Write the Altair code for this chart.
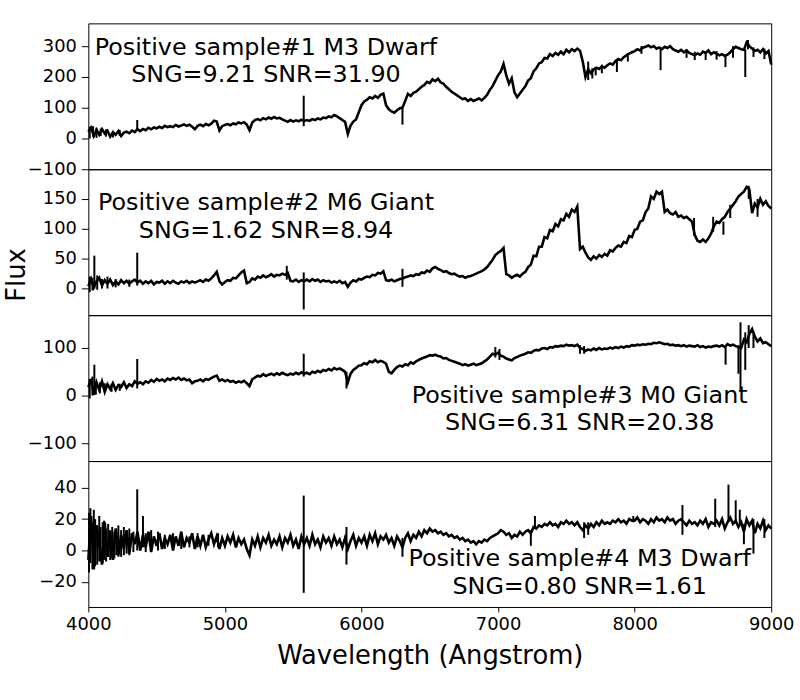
import altair as alt
import numpy as np
import pandas as pd

# Common wavelength grid (Angstrom) for the four spectra, 20 A steps
WAVE = np.arange(4000, 9001, 20)

# Sample 1: M3 dwarf (one row = 200 A)
FLUX_1 = [
    22, 35, 8, 28, 12, 30, 16, 25, 6, 20,
    12, 24, 8, 19, 22, 17, 26, 21, 30, 24,
    31, 27, 35, 30, 36, 33, 38, 34, 41, 37,
    40, 37, 44, 39, 42, 46, 41, 45, 38, 30,
    41, 45, 40, 47, 43, 48, 58, 55, 26, 40,
    44, 47, 43, 49, 46, 52, 49, 53, 45, 27,
    52, 60, 63, 59, 66, 62, 68, 64, 70, 65,
    67, 62, 58, 54, 60, 55, 59, 56, 61, 57,
    60, 57, 63, 60, 65, 62, 68, 66, 72, 69,
    76, 72, 66, 60, 54, 15, 42, 55, 62, 85,
    108, 120, 126, 134, 130, 138, 132, 142, 146, 108,
    95, 88, 84, 92, 98, 100, 122, 145, 138, 148,
    152, 160, 168, 174, 184, 180, 192, 186, 194, 182,
    178, 168, 160, 152, 146, 140, 134, 128, 130, 122,
    128, 122, 126, 130, 124, 132, 142, 158, 170, 188,
    205, 218, 242, 205, 178, 196, 150, 134, 146, 158,
    170, 188, 196, 218, 228, 244, 248, 262, 260, 274,
    268, 278, 272, 282, 274, 288, 280, 290, 284, 292,
    285, 250, 200, 225, 212, 224, 230, 226, 234, 230,
    238, 244, 240, 252, 258, 254, 264, 270, 276, 280,
    284, 290, 286, 295, 298, 302, 296, 300, 292, 296,
    290, 298, 294, 300, 290, 286, 282, 288, 280, 286,
    278, 274, 270, 276, 272, 282, 278, 286, 274, 280,
    276, 270, 274, 268, 272, 280, 290, 298, 294, 290,
    288, 312, 300, 292, 284, 288, 280, 290, 276, 284,
    240,
]
SPIKE_WL_1 = [4010, 4035, 4060, 4090, 4130, 4180, 4230, 4358, 5577, 6300,
              7660, 7690, 7715, 7760, 7870, 7950, 8050, 8190, 8380, 8440,
              8520, 8600, 8665, 8720, 8810, 8830, 8870, 8950]
SPIKE_LO_1 = [0, 5, 2, 8, 6, 3, 8, 30, 40, 45,
              190, 195, 205, 212, 216, 250, 275, 222, 262, 255,
              255, 256, 232, 262, 200, 290, 265, 258]
SPIKE_HI_1 = [38, 40, 35, 32, 30, 25, 28, 60, 139, 98,
              250, 228, 232, 240, 255, 278, 300, 292, 290, 282,
              282, 284, 272, 300, 290, 320, 296, 292]

# Sample 2: M6 giant
FLUX_2 = [
    4, 16, 2, 12, 18, 5, 14, 8, 15, 6,
    12, 7, 14, 9, 13, 8, 12, 15, 10, 13,
    8, 12, 9, 13, 7, 11, 10, 13, 8, 12,
    9, 13, 10, 8, 12, 10, 13, 9, 12, 10,
    12, 14, 11, 15, 13, 17, 22, 28, 12, 7,
    11, 14, 13, 18, 17, 22, 27, 30, 9, 11,
    17, 15, 20, 18, 22, 19, 21, 24, 20, 23,
    22, 25, 23, 26, 13, 12, 15, 11, 14, 12,
    15, 12, 16, 13, 15, 11, 14, 12, 13, 10,
    12, 10, 13, 9, 11, 3, 10, 14, 12, 16,
    15, 18, 20, 19, 23, 22, 26, 25, 29, 14,
    13, 15, 12, 14, 16, 17, 19, 20, 22, 21,
    24, 23, 27, 26, 30, 28, 34, 36, 33, 31,
    28, 29, 26, 24, 25, 22, 20, 21, 18, 20,
    21, 23, 25, 27, 29, 32, 36, 42, 48, 56,
    60, 63, 68, 24, 22, 18, 21, 23, 20, 25,
    28, 36, 40, 55, 54, 70, 70, 86, 84, 98,
    96, 108, 104, 116, 114, 125, 120, 132, 128, 137,
    66, 70, 60, 52, 48, 54, 50, 56, 53, 58,
    55, 64, 62, 68, 72, 70, 78, 76, 88, 86,
    98, 100, 112, 114, 128, 134, 154, 150, 162, 158,
    162, 128, 132, 126, 124, 128, 120, 122, 118, 120,
    116, 112, 90, 80, 78, 82, 78, 84, 92, 104,
    112, 110, 116, 120, 128, 134, 140, 146, 154, 158,
    162, 170, 166, 126, 142, 136, 150, 140, 146, 138,
    134,
]
SPIKE_WL_2 = [4010, 4030, 4044, 4065, 4100, 4140, 4200, 4300, 4358, 5453,
              5577, 6300, 8435, 8575, 8650, 8700, 8835, 8900]
SPIKE_LO_2 = [-6, -3, 0, -2, 0, 0, 2, 3, 5, 15,
              -35, 3, 88, 95, 90, 118, 150, 120]
SPIKE_HI_2 = [20, 18, 55, 22, 16, 20, 16, 15, 60, 38,
              27, 33, 118, 120, 112, 140, 172, 150]

# Sample 3: M0 giant
FLUX_3 = [
    18, 35, 2, 28, 12, 30, 8, 24, 14, 26,
    12, 22, 18, 28, 16, 24, 20, 30, 25, 28,
    24, 30, 27, 33, 29, 35, 31, 34, 30, 36,
    33, 37, 34, 38, 33, 36, 32, 34, 26, 30,
    31, 34, 30, 35, 33, 37, 40, 42, 31, 34,
    30, 33, 29, 31, 27, 30, 28, 31, 26, 20,
    34, 38, 42, 40, 45, 41, 44, 46, 43, 47,
    44, 48, 45, 43, 46, 44, 48, 45, 49, 46,
    48, 45, 50, 48, 52, 49, 54, 52, 56, 53,
    58, 55, 57, 54, 50, 28, 46, 54, 58, 63,
    64, 68, 66, 72, 70, 75, 70, 73, 71, 67,
    50, 47, 54, 60, 63, 61, 66, 64, 70, 67,
    72, 75, 78, 80, 82, 85, 84, 86, 83, 82,
    78, 79, 75, 73, 71, 69, 67, 64, 66, 63,
    65, 67, 64, 66, 68, 72, 76, 82, 88, 86,
    90, 84, 82, 78, 76, 74, 79, 81, 84, 86,
    88, 91, 90, 94, 96, 95, 99, 100, 98, 102,
    101, 104, 103, 105, 104, 107, 105, 106, 104, 107,
    100, 98, 94, 97, 95, 99, 96, 100, 97, 99,
    98, 101, 99, 102, 100, 103, 101, 104, 103, 106,
    105, 107, 106, 108, 107, 109, 108, 111, 110, 112,
    110, 108, 109, 106, 107, 105, 106, 104, 106, 103,
    105, 104, 103, 106, 102, 104, 101, 103, 102, 104,
    105, 103, 106, 102, 108, 105, 107, 104, 102, 100,
    118, 112, 130, 140, 124, 114, 120, 110, 112, 108,
    104,
]
SPIKE_WL_3 = [4010, 4030, 4044, 4055, 4085, 4120, 4170, 4230, 4358, 5577,
              5890, 6980, 7010, 7600, 7630, 8666, 8760, 8775, 8810, 8835, 8870]
SPIKE_LO_3 = [-6, 0, 5, 2, 5, 8, 8, 10, 15, 40,
              15, 80, 75, 88, 88, 65, 46, 12, 54, 100, 100]
SPIKE_HI_3 = [35, 40, 65, 30, 28, 26, 25, 25, 77, 88,
              50, 102, 98, 106, 104, 106, 106, 154, 133, 148, 129]

# Sample 4: M3 dwarf, low signal
FLUX_4 = [
    -6, 22, -12, 16, 4, -9, 18, -4, 12, -6,
    14, -3, 10, 1, 13, -2, 11, 4, 12, 0,
    10, 2, 12, -1, 9, 3, 11, 1, 8, 4,
    10, 0, 9, 3, 12, 2, 8, 5, 11, 1,
    9, 3, 10, 2, 7, 11, 4, 9, 1, 8,
    3, 9, 5, 10, 2, 8, 4, 7, 1, -3,
    7, 3, 9, 2, 8, 5, 10, 3, 7, 4,
    9, 2, 8, 5, 10, 3, 7, 1, 9, 4,
    8, 3, 10, 4, 7, 2, 9, 5, 8, 3,
    9, 4, 7, 2, 8, 1, 6, 10, 3, 8,
    5, 9, 3, 10, 6, 11, 4, 9, 7, 10,
    5, 8, 3, 9, 6, 2, 8, 11, 6, 10,
    8, 12, 9, 13, 11, 14, 12, 13, 11, 12,
    10, 11, 9, 10, 8, 9, 7, 8, 6, 7,
    5, 6, 4, 6, 5, 7, 6, 8, 9, 10,
    11, 13, 12, 10, 11, 8, 10, 9, 12, 10,
    12, 13, 11, 15, 14, 16, 15, 17, 16, 18,
    16, 17, 15, 18, 17, 19, 17, 18, 16, 18,
    15, 13, 16, 14, 17, 15, 18, 16, 19, 17,
    18, 17, 19, 18, 20, 18, 19, 17, 20, 19,
    19, 21, 18, 20, 19, 17, 20, 18, 21, 19,
    20, 18, 21, 19, 20, 17, 19, 20, 18, 16,
    19, 17, 18, 16, 19, 17, 20, 15, 18, 17,
    19, 16, 20, 14, 18, 21, 17, 19, 15, 18,
    12, 20, 16, 19, 11, 17, 14, 19, 13, 16,
    14,
]
SPIKE_WL_4 = [4005, 4015, 4030, 4040, 4050, 4065, 4080, 4090, 4105, 4115,
              4130, 4145, 4160, 4175, 4190, 4205, 4220, 4240, 4260, 4280,
              4300, 4330, 4358, 4400, 4420, 4460, 4510, 4560, 4620, 4680,
              4740, 4800, 4880, 4950, 5577, 5890, 6300, 7240, 7270, 7630,
              7660, 7990, 8350, 8590, 8687, 8740, 8770, 8800, 8870, 8950]
SPIKE_LO_4 = [-14, -8, -12, -6, -10, -9, -7, -5, -8, -6,
              -7, -4, -6, -5, -5, -3, -4, -4, -3, -2,
              -3, -1, 0, 2, -1, 1, 0, 1, 2, 1,
              2, 2, 3, 2, -27, -9, -4, 3, 14, 8,
              10, 18, 10, 15, 18, 17, 17, 4, -2, 8]
SPIKE_HI_4 = [24, 27, 18, 26, 20, 16, 22, 15, 18, 19,
              14, 17, 13, 15, 12, 14, 16, 13, 15, 12,
              14, 12, 39, 22, 11, 13, 12, 10, 11, 12,
              9, 11, 10, 11, 35, 15, 8, 13, 22, 18,
              18, 22, 29, 33, 42, 32, 26, 17, 20, 20]

LABELS = [
    ["Positive sample#1 M3 Dwarf", "SNG=9.21 SNR=31.90"],
    ["Positive sample#2 M6 Giant", "SNG=1.62 SNR=8.94"],
    ["Positive sample#3 M0 Giant", "SNG=6.31 SNR=20.38"],
    ["Positive sample#4 M3 Dwarf", "SNG=0.80 SNR=1.61"],
]
Y_DOMAINS = [[-100, 374], [-44.5, 199.5], [-137.5, 169], [-36, 57]]
Y_TICKS = [[-100, 0, 100, 200, 300], [0, 50, 100, 150], [-100, 0, 100], [-20, 0, 20, 40]]
X_TICKS = [4000, 5000, 6000, 7000, 8000, 9000]

FONT = "DejaVu Sans"
W, H = 688, 147

# annotation placement inside each panel (centre x, baseline of first line)
TEXT_POS = [(179, 32), (179, 41.5), (495, 88), (495, 106)]


def panel(idx, flux, swl, slo, shi):
    spec = pd.DataFrame({"wavelength": WAVE, "flux": flux})
    spikes = pd.DataFrame({"wavelength": swl, "lo": slo, "hi": shi})

    xscale = alt.Scale(domain=[4000, 9000], nice=False, zero=False)
    yscale = alt.Scale(domain=Y_DOMAINS[idx], nice=False, zero=False)

    if idx == 3:
        xaxis = alt.Axis(values=X_TICKS, format="d", title="Wavelength (Angstrom)",
                         labelFontSize=18, tickSize=5, labelPadding=4,
                         titleFontSize=26, titleFontWeight="normal", titlePadding=9,
                         labelFlush=False, labelOverlap=False, domain=False,
                         grid=False, tickColor="black", labelColor="black",
                         titleColor="black")
    else:
        xaxis = None

    yargs = dict(values=Y_TICKS[idx], format="d", labelFontSize=18, tickSize=7,
                 labelPadding=5, labelFlush=False, labelOverlap=False,
                 domain=False, grid=False, tickColor="black", labelColor="black")
    if idx == 1:
        yaxis = alt.Axis(title="Flux", titleFontSize=26, titleFontWeight="normal",
                         titleColor="black", titleX=-64, titleY=106,
                         titleAlign="center", titleBaseline="alphabetic",
                         titleAngle=270, **yargs)
    else:
        yaxis = alt.Axis(title=None, **yargs)

    line = alt.Chart(spec).mark_line(color="black", strokeWidth=2.6).encode(
        x=alt.X("wavelength:Q", scale=xscale, axis=xaxis),
        y=alt.Y("flux:Q", scale=yscale, axis=yaxis),
    )
    rules = alt.Chart(spikes).mark_rule(color="black", strokeWidth=2).encode(
        x=alt.X("wavelength:Q", scale=xscale, axis=xaxis),
        y=alt.Y("lo:Q", scale=yscale, axis=yaxis),
        y2="hi:Q",
    )

    tx, ty = TEXT_POS[idx]
    texts = []
    for k, s in enumerate(LABELS[idx]):
        texts.append(
            alt.Chart(pd.DataFrame({"label": [s]}))
            .mark_text(font=FONT, fontSize=24, color="black", align="center",
                       baseline="alphabetic")
            .encode(text="label:N", x=alt.value(tx), y=alt.value(ty + 27.5 * k))
        )
    return alt.layer(line, rules, *texts).properties(width=W, height=H)


panels = [
    panel(0, FLUX_1, SPIKE_WL_1, SPIKE_LO_1, SPIKE_HI_1),
    panel(1, FLUX_2, SPIKE_WL_2, SPIKE_LO_2, SPIKE_HI_2),
    panel(2, FLUX_3, SPIKE_WL_3, SPIKE_LO_3, SPIKE_HI_3),
    panel(3, FLUX_4, SPIKE_WL_4, SPIKE_LO_4, SPIKE_HI_4),
]

chart = (
    alt.vconcat(*panels, spacing=0, bounds="flush")
    .properties(padding={"top": 20, "left": 3, "right": 5, "bottom": 5},
                background="white")
    .configure(font=FONT)
    .configure_view(stroke="black", strokeWidth=1)
    .configure_axis(labelFont=FONT, titleFont=FONT)
)

chart.save("out.html", embed_options={"renderer": "svg", "actions": False})
